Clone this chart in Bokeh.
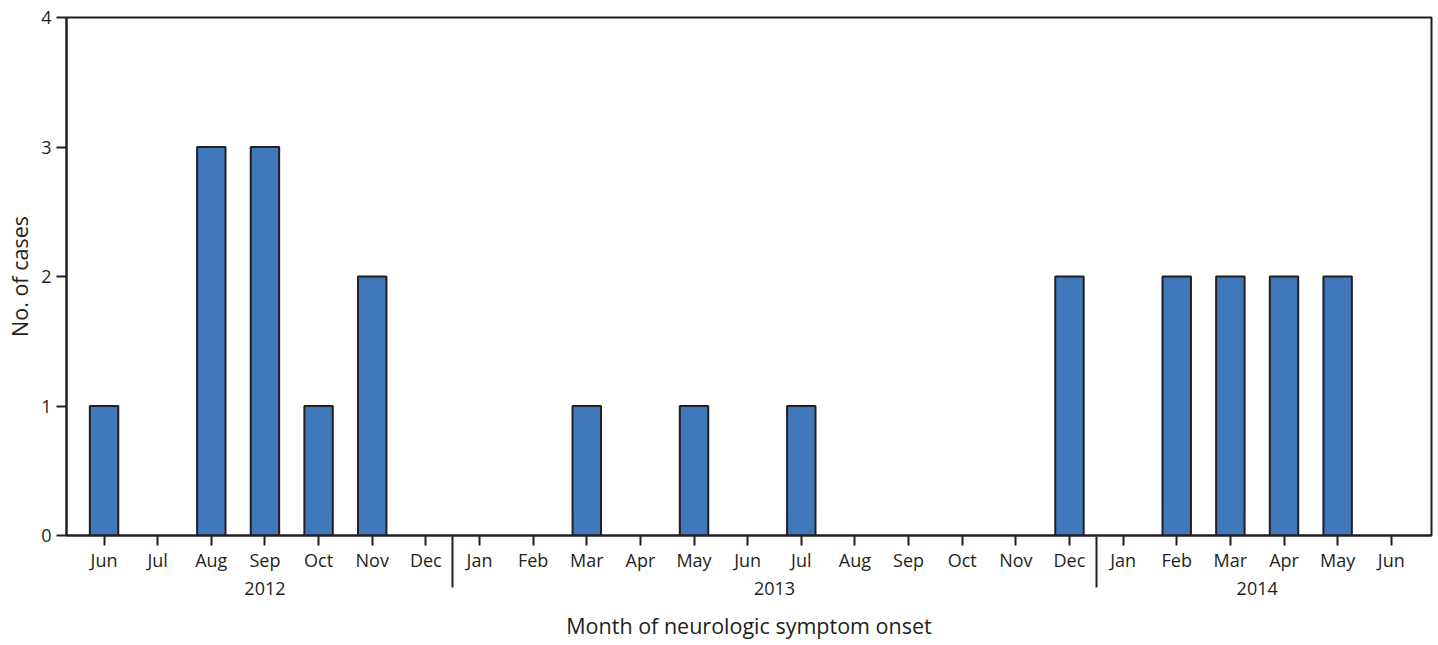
from bokeh.plotting import figure
from bokeh.models import FixedTicker, LinearAxis, Range1d, ColumnDataSource
from bokeh.embed import file_html
from bokeh.resources import INLINE

months = ["Jun", "Jul", "Aug", "Sep", "Oct", "Nov", "Dec",
          "Jan", "Feb", "Mar", "Apr", "May", "Jun", "Jul", "Aug", "Sep", "Oct", "Nov", "Dec",
          "Jan", "Feb", "Mar", "Apr", "May", "Jun"]
cases = [1, 0, 3, 3, 1, 2, 0,
         0, 0, 1, 0, 1, 0, 1, 0, 0, 0, 0, 2,
         0, 2, 2, 2, 2, 0]
years = ["2012", "2013", "2014"]
year_months = [7, 12, 6]

idx = list(range(len(months)))
src = ColumnDataSource(dict(x=[i for i in idx if cases[i] > 0],
                            top=[cases[i] for i in idx if cases[i] > 0]))

year_centers = []
separators = []
start = 0
for n in year_months:
    year_centers.append(start + (n - 1) / 2)
    start += n
    if start < len(months):
        separators.append(start - 0.5)

FONT = "Open Sans"
DARK = "#231f20"

p = figure(width=1438, height=645, output_backend="svg", toolbar_location=None,
           x_range=Range1d(-0.7, 24.75), y_range=Range1d(0, 4),
           min_border_left=66, min_border_right=7, min_border_top=17, min_border_bottom=110)

p.vbar(x="x", top="top", width=0.53, bottom=0, source=src,
       fill_color="#3f78bb", line_color=DARK, line_width=2)

p.grid.visible = False
p.outline_line_color = DARK
p.outline_line_width = 2
p.background_fill_color = "white"
p.border_fill_color = "white"

# y axis
ya = p.yaxis[0]
ya.ticker = FixedTicker(ticks=[0, 1, 2, 3, 4])
ya.axis_label = "No. of cases"
ya.axis_label_text_font = FONT
ya.axis_label_text_font_size = "21.5px"
ya.axis_label_text_font_style = "normal"
ya.axis_label_text_color = DARK
ya.axis_label_standoff = 4
ya.major_label_text_font = FONT
ya.major_label_text_font_size = "18px"
ya.major_label_text_color = DARK
ya.major_label_standoff = 5
ya.major_tick_out = 10
ya.major_tick_in = 0
ya.minor_tick_out = 0
ya.minor_tick_in = 0
ya.axis_line_color = DARK
ya.axis_line_width = 2
ya.major_tick_line_color = DARK
ya.major_tick_line_width = 2

# month axis
xa = p.xaxis[0]
xa.ticker = FixedTicker(ticks=idx, minor_ticks=[])
xa.major_label_overrides = {i: m for i, m in enumerate(months)}
xa.major_label_text_font = FONT
xa.major_label_text_font_size = "18px"
xa.major_label_text_color = DARK
xa.major_label_standoff = 2
xa.major_tick_out = 10
xa.major_tick_in = 0
xa.minor_tick_out = 0
xa.minor_tick_in = 0
xa.axis_line_color = DARK
xa.axis_line_width = 2
xa.major_tick_line_color = DARK
xa.major_tick_line_width = 2

# year axis (its minor ticks are the year separators)
ya2 = LinearAxis(ticker=FixedTicker(ticks=year_centers, minor_ticks=separators))
ya2.major_label_overrides = {c: y for c, y in zip(year_centers, years)}
ya2.major_label_text_font = FONT
ya2.major_label_text_font_size = "18px"
ya2.major_label_text_color = DARK
ya2.major_label_standoff = -6
ya2.axis_line_color = None
ya2.major_tick_line_color = None
ya2.major_tick_out = 0
ya2.major_tick_in = 0
ya2.minor_tick_line_color = DARK
ya2.minor_tick_line_width = 2
ya2.minor_tick_in = 38
ya2.minor_tick_out = 13
ya2.axis_label = "Month of neurologic symptom onset"
ya2.axis_label_text_font = FONT
ya2.axis_label_text_font_size = "21.5px"
ya2.axis_label_text_font_style = "normal"
ya2.axis_label_text_color = DARK
ya2.axis_label_standoff = 13
p.add_layout(ya2, "below")

open("out.html", "w").write(file_html(p, INLINE))
